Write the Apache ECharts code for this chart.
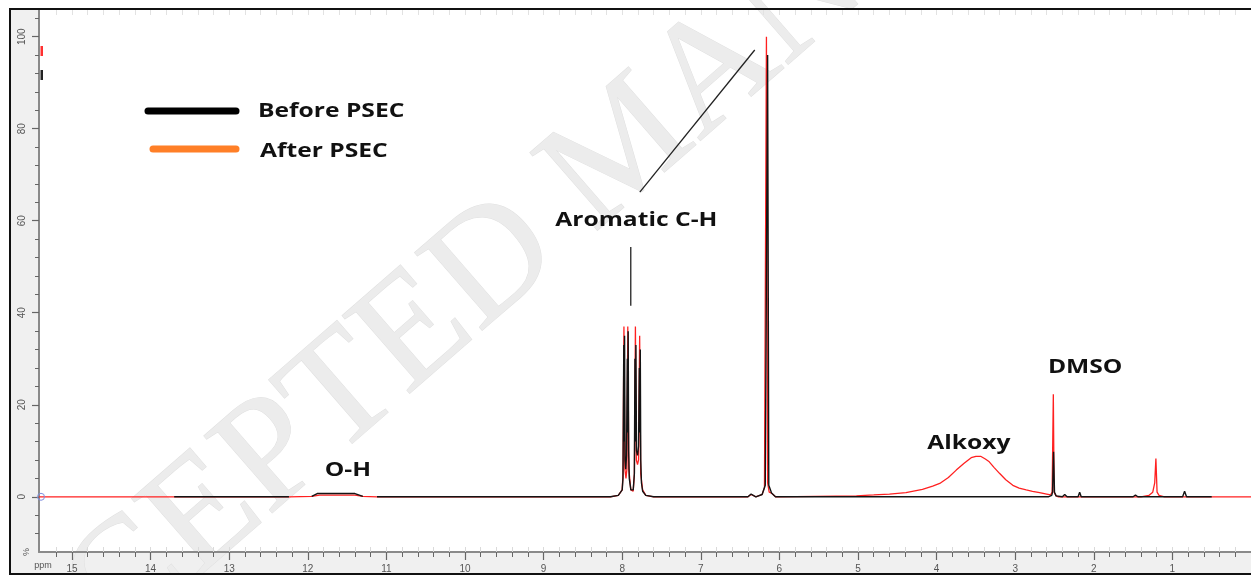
<!DOCTYPE html>
<html><head><meta charset="utf-8">
<script src="https://cdn.jsdelivr.net/npm/echarts@6/dist/echarts.min.js"></script>
<style>html,body{margin:0;padding:0;background:#fff}#c{width:1251px;height:575px}</style>
</head><body><div id="c"></div>
<script>
// ---- data (ppm, intensity %) ----
const afterPSEC = [
  [15.42,0],[14.50,0],[13.70,0],[12.24,0],[11.95,0.1],[11.85,0.35],[11.40,0.35],[11.30,0.1],[11.12,0],[10.00,0],
  [8.15,0],[8.05,0.3],[8.00,1.5],[7.99,5],[7.978,37],[7.966,6],[7.952,4],[7.940,6],[7.929,37],[7.916,6],
  [7.89,1.5],[7.86,1.2],[7.845,5],[7.832,37],[7.820,8],[7.805,7],[7.792,8],[7.778,35],[7.765,5],[7.74,1.5],
  [7.70,0.3],[7.60,0],[6.40,0],[6.36,0.5],[6.30,0],[6.22,0.5],[6.19,2],[6.165,100],[6.15,3],[6.13,1],[6.10,0.8],[6.05,0],
  [5.02,0.2],[4.80,0.4],[4.60,0.6],[4.39,0.9],[4.18,1.6],[4.05,2.3],[3.96,2.9],[3.85,4.2],[3.75,5.8],[3.65,7.3],
  [3.56,8.5],[3.50,8.8],[3.44,8.8],[3.38,8.2],[3.33,7.6],[3.27,6.4],[3.20,5.1],[3.12,3.7],[3.03,2.5],[2.95,1.9],
  [2.86,1.5],[2.78,1.2],[2.69,0.9],[2.60,0.6],[2.55,0.4],[2.53,1],[2.515,22.3],[2.505,1],[2.48,0.2],[2.45,0],
  [1.40,0],[1.30,0.3],[1.25,1],[1.225,3],[1.21,8.3],[1.195,1],[1.17,0.3],[1.10,0],[0.50,0],[0,0]
];
const beforePSEC = [
  [13.70,0],[12.24,0],[12.10,'-'],[11.95,0.1],[11.88,0.7],[11.40,0.7],[11.30,0.1],[11.20,'-'],[11.12,0],
  [8.15,0],[8.05,0.3],[8.00,1.5],[7.99,4],[7.980,33],[7.975,12],[7.970,35],[7.964,8],[7.955,6],[7.945,9],
  [7.935,30],[7.930,14],[7.924,36],[7.918,10],[7.910,4],[7.89,1.5],[7.86,1.5],[7.845,5],[7.838,30],[7.832,12],
  [7.826,33],[7.818,10],[7.805,9],[7.792,11],[7.782,28],[7.776,14],[7.770,32],[7.764,8],[7.755,3],[7.74,1.2],
  [7.70,0.3],[7.60,0],[6.40,0],[6.36,0.6],[6.30,0],[6.22,0.5],[6.18,2.5],[6.15,96],[6.135,2.5],[6.10,0.8],[6.05,0],
  [2.58,0],[2.535,0.3],[2.525,1],[2.512,9.8],[2.50,1],[2.48,0.2],[2.40,0],[2.37,0.5],[2.34,0],[2.20,0],[2.18,1],[2.16,0],
  [1.50,0],[1.47,0.4],[1.44,0],[0.87,0],[0.845,1.2],[0.82,0],[0.50,0]
];
const xMajorTicks = [1,2,3,4,5,6,7,8,9,10,11,12,13,14,15];
const yMajorTicks = [0,20,40,60,80,100];
const seriesNames = ['Before PSEC','After PSEC'];
const annotations = [
  {text:'O-H', ppm:11.49, y:5.8},
  {text:'Aromatic C-H', ppm:7.82, y:60.1},
  {text:'Alkoxy', ppm:3.59, y:11.7},
  {text:'DMSO', ppm:2.11, y:28.2}
];
const leaderLines = [
  [[7.891,54.3],[7.891,41.5]],
  [[7.776,66.2],[6.314,97.1]]
];

const X_MIN = 0, X_MAX = 15.42, Y_MIN = -12, Y_MAX = 105.8;
const xMinor = [], xAll = [];
for (let k = 1; k < 77; k++) { const v = +(k*0.2).toFixed(1); xAll.push(v); if (Math.abs(v-Math.round(v))>1e-6) xMinor.push(v); }
const yMinor = []; for (let v = -8; v < 105; v += 4) { if (v % 20 !== 0) yMinor.push(v); }

const chart = echarts.init(document.getElementById('c'));
const axisGray = '#8a8a8a';
const faint = {type: 'value', inverse: true, min: X_MIN, max: X_MAX,
  axisLine: {show: false, onZero: false}, axisLabel: {show: false}, splitLine: {show: false}};
const option = {
  animation: false,
  backgroundColor: '#fff',
  grid: {left: 39, right: 0, top: 10, bottom: 23, containLabel: false},
  xAxis: [{
    type: 'value', inverse: true, min: X_MIN, max: X_MAX,
    axisLine: {show: true, onZero: false, lineStyle: {color: axisGray, width: 2}},
    axisTick: {show: true, inside: false, length: 8, customValues: xMajorTicks, lineStyle: {color: '#666', width: 1.2}},
    axisLabel: {show: true, customValues: xMajorTicks, color: '#555', fontSize: 10, margin: 12, fontFamily: 'Liberation Sans'},
    splitLine: {show: false}
  },
  Object.assign({}, faint, {position: 'bottom', axisTick: {show: true, length: 5, customValues: xMinor, lineStyle: {color: '#666', width: 1}}}),
  Object.assign({}, faint, {position: 'bottom', axisTick: {show: true, inside: true, length: 5, customValues: xAll, lineStyle: {color: '#dadada', width: 1}}}),
  Object.assign({}, faint, {position: 'top', axisTick: {show: true, inside: true, length: 5, customValues: xAll, lineStyle: {color: '#e2e2e2', width: 1}}})
  ],
  yAxis: [{
    type: 'value', min: Y_MIN, max: Y_MAX,
    axisLine: {show: true, onZero: false, lineStyle: {color: axisGray, width: 2}},
    axisTick: {show: true, length: 7, customValues: yMajorTicks, lineStyle: {color: '#666', width: 1.2}},
    axisLabel: {show: true, customValues: yMajorTicks, rotate: 90, color: '#555', fontSize: 10, margin: 12, fontFamily: 'Liberation Sans'},
    splitLine: {show: false}
  },{
    type: 'value', min: Y_MIN, max: Y_MAX, position: 'left',
    axisLine: {show: false, onZero: false},
    axisTick: {show: true, length: 4, customValues: yMinor, lineStyle: {color: '#666', width: 1}},
    axisLabel: {show: false}, splitLine: {show: false}
  }],
  series: [
    {name: seriesNames[1], type: 'line', data: afterPSEC, showSymbol: false, symbol: 'none', connectNulls: false,
     lineStyle: {color: '#ff2020', width: 1.3}, z: 3},
    {name: seriesNames[0], type: 'line', data: beforePSEC, showSymbol: false, symbol: 'none', connectNulls: false,
     lineStyle: {color: '#141414', width: 1.4}, z: 4}
  ]
};
chart.setOption(option);

const g = [];
const SX = 1.23; // the original figure's text is horizontally stretched
// panel backgrounds and frame
g.push({type: 'rect', z: -10, shape: {x: 10, y: 10, width: 29, height: 565}, style: {fill: '#f0f0f0'}});
g.push({type: 'rect', z: -10, shape: {x: 10, y: 552, width: 1250, height: 23}, style: {fill: '#f0f0f0'}});
g.push({type: 'polyline', z: 50, shape: {points: [[10,576],[10,9],[1252,9]]}, style: {stroke: '#111', lineWidth: 2, fill: null}});
g.push({type: 'line', z: 50, shape: {x1: 10, y1: 574, x2: 1252, y2: 574}, style: {stroke: '#111', lineWidth: 2}});
// watermark
g.push({type: 'text', z: -5, x: -75, y: 760, rotation: 41*Math.PI/180,
  style: {text: 'ACCEPTED MANUSCRIPT', x: 0, y: 0, textAlign: 'left', textVerticalAlign: 'middle',
    font: '157px "Liberation Serif"', fill: '#ececec', stroke: '#e0e0e0', lineWidth: 1}});
// axis unit labels
g.push({type: 'text', z: 20, x: 27, y: 552, rotation: Math.PI/2,
  style: {text: '%', textAlign: 'center', textVerticalAlign: 'middle', font: '9px "Liberation Sans"', fill: '#555'}});
g.push({type: 'text', z: 20, x: 43, y: 566,
  style: {text: 'ppm', textAlign: 'center', textVerticalAlign: 'middle', font: '9px "Liberation Sans"', fill: '#555'}});
// little markers on y axis
g.push({type: 'rect', z: 20, shape: {x: 40.5, y: 46, width: 2.5, height: 10}, style: {fill: '#ff3030'}});
g.push({type: 'rect', z: 20, shape: {x: 40.5, y: 70, width: 2.5, height: 10}, style: {fill: '#222'}});
const o = chart.convertToPixel({gridIndex: 0}, [X_MAX, 0]);
g.push({type: 'circle', z: 20, shape: {cx: o[0]+2, cy: o[1], r: 3.5}, style: {fill: 'none', stroke: '#7f8fe0', lineWidth: 1}});
// legend
g.push({type: 'line', z: 30, shape: {x1: 148, y1: 111, x2: 236, y2: 111}, style: {stroke: '#000', lineWidth: 7, lineCap: 'round'}});
g.push({type: 'line', z: 30, shape: {x1: 153, y1: 149, x2: 236, y2: 149}, style: {stroke: '#ff7f27', lineWidth: 7, lineCap: 'round'}});
g.push({type: 'text', z: 30, x: 258, y: 111, scaleX: SX, style: {text: seriesNames[0], textAlign: 'left', textVerticalAlign: 'middle', font: 'bold 20px "Open Sans"', fill: '#111'}});
g.push({type: 'text', z: 30, x: 260, y: 151, scaleX: SX, style: {text: seriesNames[1], textAlign: 'left', textVerticalAlign: 'middle', font: 'bold 20px "Open Sans"', fill: '#111'}});
// annotations
annotations.forEach(a => {
  const p = chart.convertToPixel({gridIndex: 0}, [a.ppm, a.y]);
  g.push({type: 'text', z: 30, x: p[0], y: p[1], scaleX: SX, style: {text: a.text, textAlign: 'center', textVerticalAlign: 'middle', font: 'bold 20px "Open Sans"', fill: '#111'}});
});
leaderLines.forEach(l => {
  const p1 = chart.convertToPixel({gridIndex: 0}, l[0]);
  const p2 = chart.convertToPixel({gridIndex: 0}, l[1]);
  g.push({type: 'line', z: 30, shape: {x1: p1[0], y1: p1[1], x2: p2[0], y2: p2[1]}, style: {stroke: '#222', lineWidth: 1.3}});
});
chart.setOption({graphic: g});
</script></body></html>
